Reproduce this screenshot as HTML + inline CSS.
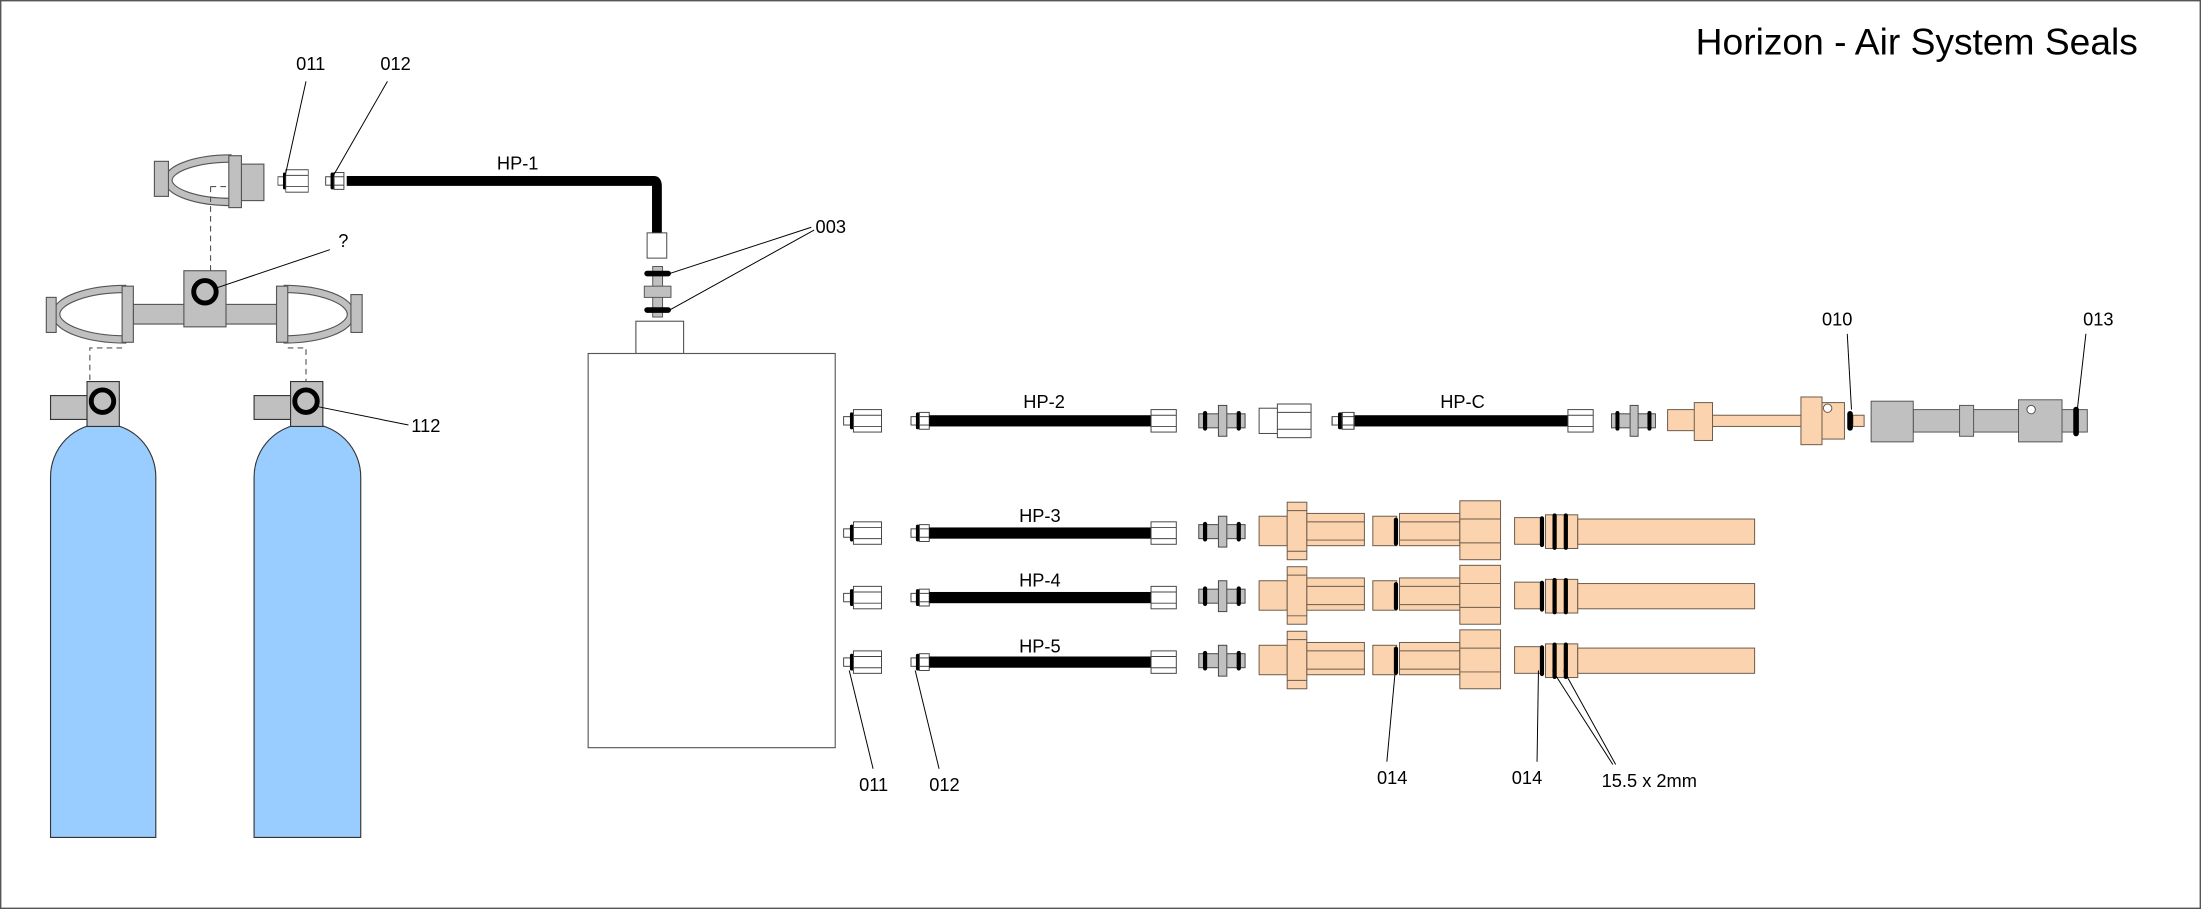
<!DOCTYPE html>
<html><head><meta charset="utf-8"><style>
html,body{margin:0;padding:0;background:#fff;}
svg{display:block;}
text{font-family:"Liberation Sans",sans-serif;fill:#000;}
</style></head><body>
<svg width="2201" height="909" viewBox="0 0 1568 648" preserveAspectRatio="none" xmlns="http://www.w3.org/2000/svg">
<defs>
  <g id="fit011" stroke="#444" stroke-width="0.7">
    <rect x="0" y="-3" width="5" height="6" fill="#fff"/>
    <rect x="4.5" y="-6" width="2.5" height="12" rx="1.2" fill="#000" stroke="none"/>
    <rect x="7" y="-8" width="20" height="16" fill="#fff"/>
    <line x1="7" y1="-4" x2="27" y2="-4"/><line x1="7" y1="4" x2="27" y2="4"/>
  </g>
  <g id="fit012" stroke="#444" stroke-width="0.7">
    <rect x="0" y="-3" width="4" height="6" fill="#fff"/>
    <rect x="3.5" y="-6" width="2.5" height="12" rx="1.2" fill="#000" stroke="none"/>
    <rect x="6" y="-6" width="7" height="12" fill="#fff"/>
    <line x1="6" y1="-3" x2="13" y2="-3"/><line x1="6" y1="3" x2="13" y2="3"/>
  </g>
  <g id="endnut" stroke="#444" stroke-width="0.7">
    <rect x="0" y="-8" width="18" height="16" fill="#fff"/>
    <line x1="0" y1="-4" x2="18" y2="-4"/><line x1="0" y1="4" x2="18" y2="4"/>
  </g>
  <g id="bulk" stroke="#444" stroke-width="0.7">
    <rect x="0" y="-5" width="33" height="10" fill="#c0c0c0"/>
    <rect x="14" y="-11" width="6" height="22" fill="#c0c0c0"/>
    <rect x="3" y="-7" width="3" height="14" rx="1.5" fill="#000" stroke="none"/>
    <rect x="27" y="-7" width="3" height="14" rx="1.5" fill="#000" stroke="none"/>
  </g>
  <g id="peachA" stroke="#6b5a4a" stroke-width="0.7" fill="#fbd3ae">
    <rect x="0" y="-11" width="20" height="21"/>
    <rect x="20" y="-21" width="14" height="41"/>
    <line x1="20" y1="-15" x2="34" y2="-15"/><line x1="20" y1="14" x2="34" y2="14"/>
    <rect x="34" y="-13" width="41" height="23"/>
    <line x1="34" y1="-7" x2="75" y2="-7"/><line x1="34" y1="6" x2="75" y2="6"/>
  </g>
  <g id="peachB" stroke="#6b5a4a" stroke-width="0.7" fill="#fbd3ae">
    <rect x="0" y="-11" width="17" height="21"/>
    <rect x="15" y="-10" width="3" height="20" rx="1.5" fill="#000" stroke="none"/>
    <rect x="19" y="-13" width="43" height="23"/>
    <line x1="19" y1="-7" x2="62" y2="-7"/><line x1="19" y1="6" x2="62" y2="6"/>
    <rect x="62" y="-22" width="29" height="42"/>
    <line x1="62" y1="-9" x2="91" y2="-9"/><line x1="62" y1="8" x2="91" y2="8"/>
  </g>
  <g id="peachC" stroke="#6b5a4a" stroke-width="0.7" fill="#fbd3ae">
    <rect x="0" y="-10" width="20" height="19"/>
    <rect x="22" y="-12" width="23" height="24"/>
    <rect x="45" y="-9" width="126" height="18"/>
    <rect x="18" y="-11" width="3" height="22" rx="1.5" fill="#000" stroke="none"/>
    <rect x="27" y="-13" width="3" height="26" rx="1.5" fill="#000" stroke="none"/>
    <rect x="35" y="-13" width="3" height="26" rx="1.5" fill="#000" stroke="none"/>
  </g>
</defs>

<rect x="0.5" y="0.5" width="1567" height="647" fill="#fff" stroke="#555" stroke-width="1"/>
<text x="1208" y="39" font-size="26.5">Horizon - Air System Seals</text>

<!-- top yoke -->
<g stroke="#555" stroke-width="0.8">
  <path d="M165 113 A45 15.5 0 0 0 165 144" fill="none" stroke="#555" stroke-width="6"/>
  <path d="M165 113 A45 15.5 0 0 0 165 144" fill="none" stroke="#c0c0c0" stroke-width="4.4"/>
  <rect x="110" y="115" width="10" height="25" fill="#c0c0c0"/>
  <rect x="172" y="117" width="16" height="26" fill="#c0c0c0"/>
  <rect x="163" y="111" width="9" height="37" fill="#c0c0c0"/>
  <path d="M150 133 H163 M150 133 V193" fill="none" stroke-dasharray="4 3"/>
</g>
<use href="#fit011" transform="translate(198,129) scale(0.8,1)"/>
<use href="#fit012" transform="translate(232,129)"/>
<path d="M247 129 H466 Q468 129 468 133 V167" fill="none" stroke="#000" stroke-width="7"/>
<rect x="461" y="166" width="14" height="18" fill="#fff" stroke="#444" stroke-width="0.7"/>
<text x="354" y="121" font-size="13">HP-1</text>
<text x="211" y="50" font-size="13">011</text>
<text x="271" y="50" font-size="13">012</text>
<line x1="218" y1="58" x2="203" y2="126" stroke="#000" stroke-width="0.7"/>
<line x1="276" y1="58" x2="237" y2="126" stroke="#000" stroke-width="0.7"/>

<!-- 003 fitting -->
<g stroke="#555" stroke-width="0.7">
  <rect x="465" y="190" width="7" height="36" fill="#c0c0c0"/>
  <rect x="459" y="204" width="19" height="8" fill="#c0c0c0"/>
  <rect x="459" y="193" width="19" height="4" rx="2" fill="#000" stroke="none"/>
  <rect x="459" y="219" width="19" height="4" rx="2" fill="#000" stroke="none"/>
</g>
<text x="581" y="166" font-size="13">003</text>
<line x1="578" y1="162" x2="477" y2="195" stroke="#000" stroke-width="0.7"/>
<line x1="580" y1="164" x2="477" y2="221" stroke="#000" stroke-width="0.7"/>

<!-- compressor box -->
<rect x="453" y="229" width="34" height="23" fill="#fff" stroke="#555" stroke-width="0.8"/>
<rect x="419" y="252" width="176" height="281" fill="#fff" stroke="#555" stroke-width="0.8"/>

<!-- manifold -->
<g stroke="#555" stroke-width="0.8">
  <path d="M90 206 A50 18 0 0 0 90 242" fill="none" stroke="#555" stroke-width="6"/>
  <path d="M90 206 A50 18 0 0 0 90 242" fill="none" stroke="#c0c0c0" stroke-width="4.4"/>
  <path d="M202 206 A48 18 0 0 1 202 242" fill="none" stroke="#555" stroke-width="6"/>
  <path d="M202 206 A48 18 0 0 1 202 242" fill="none" stroke="#c0c0c0" stroke-width="4.4"/>
  <rect x="33" y="212" width="7" height="25" fill="#c0c0c0"/>
  <rect x="250" y="210" width="8" height="27" fill="#c0c0c0"/>
  <rect x="95" y="217" width="103" height="14" fill="#c0c0c0"/>
  <rect x="87" y="204" width="8" height="40" fill="#c0c0c0"/>
  <rect x="197" y="204" width="8" height="40" fill="#c0c0c0"/>
  <rect x="131" y="193" width="30" height="40" fill="#c0c0c0"/>
  <circle cx="146" cy="208" r="8" fill="none" stroke="#000" stroke-width="3.5"/>
  <path d="M87 248 H64 V272 M205 248 H218 V272" fill="none" stroke-dasharray="4 3"/>
</g>
<text x="241" y="176" font-size="13">?</text>
<line x1="155" y1="205" x2="235" y2="178" stroke="#000" stroke-width="0.7"/>

<!-- cylinders -->
<g stroke="#333" stroke-width="0.8">
  <path d="M36 340 A37.5 38 0 0 1 111 340 V597 H36 Z" fill="#99ccff"/>
  <rect x="36" y="282" width="26" height="17" fill="#c0c0c0"/>
  <rect x="62" y="272" width="23" height="32" fill="#c0c0c0"/>
  <circle cx="73" cy="286" r="8" fill="none" stroke="#000" stroke-width="3.5"/>
</g>
<g stroke="#333" stroke-width="0.8">
  <path d="M181 340 A38 38 0 0 1 257 340 V597 H181 Z" fill="#99ccff"/>
  <rect x="181" y="282" width="26" height="17" fill="#c0c0c0"/>
  <rect x="207" y="272" width="23" height="32" fill="#c0c0c0"/>
  <circle cx="218" cy="286" r="8" fill="none" stroke="#000" stroke-width="3.5"/>
</g>
<text x="293" y="308" font-size="13">112</text>
<line x1="227" y1="290" x2="291" y2="303" stroke="#000" stroke-width="0.7"/>

<!-- row 1 (HP-2 / HP-C) -->
<use href="#fit011" transform="translate(601,300)"/>
<use href="#fit012" transform="translate(649,300)"/>
<rect x="662" y="296" width="158" height="8" fill="#000"/>
<use href="#endnut" transform="translate(820,300)"/>
<use href="#bulk" transform="translate(854,300)"/>
<text x="729" y="291" font-size="13">HP-2</text>
<g stroke="#444" stroke-width="0.7" fill="#fff">
  <rect x="897" y="291" width="14" height="18"/>
  <rect x="910" y="288" width="24" height="24"/>
  <line x1="910" y1="294" x2="934" y2="294"/><line x1="910" y1="306" x2="934" y2="306"/>
</g>
<use href="#fit012" transform="translate(949,300) scale(1.2,1)"/>
<rect x="965" y="296" width="152" height="8" fill="#000"/>
<use href="#endnut" transform="translate(1117,300)"/>
<use href="#bulk" transform="translate(1148,300) scale(0.95,1)"/>
<text x="1026" y="291" font-size="13">HP-C</text>
<g stroke="#6b5a4a" stroke-width="0.7" fill="#fbd3ae">
  <rect x="1188" y="292" width="20" height="15"/>
  <rect x="1320" y="296" width="8" height="8"/>
  <rect x="1220" y="296" width="64" height="8"/>
  <rect x="1207" y="287" width="13" height="27"/>
  <rect x="1283" y="283" width="15" height="34"/>
  <rect x="1298" y="287" width="16" height="26"/>
  <circle cx="1302" cy="291" r="3" fill="#fff"/>
  <rect x="1316" y="293" width="4" height="14" rx="2" fill="#000" stroke="none"/>
</g>
<g stroke="#555" stroke-width="0.7" fill="#c0c0c0">
  <rect x="1363" y="292" width="124" height="16"/>
  <rect x="1333" y="286" width="30" height="29"/>
  <rect x="1396" y="289" width="10" height="22"/>
  <rect x="1438" y="285" width="31" height="30"/>
  <circle cx="1447" cy="292" r="3" fill="#fff"/>
  <rect x="1477" y="290" width="4" height="21" rx="2" fill="#000" stroke="none"/>
</g>
<text x="1298" y="232" font-size="13">010</text>
<line x1="1316" y1="238" x2="1319" y2="292" stroke="#000" stroke-width="0.7"/>
<text x="1484" y="232" font-size="13">013</text>
<line x1="1486" y1="238" x2="1480" y2="291" stroke="#000" stroke-width="0.7"/>

<!-- rows 3-5 -->
<g>
  <use href="#fit011" transform="translate(601,380)"/>
  <use href="#fit012" transform="translate(649,380)"/>
  <rect x="662" y="376" width="158" height="8" fill="#000"/>
  <use href="#endnut" transform="translate(820,380)"/>
  <use href="#bulk" transform="translate(854,379)"/>
  <use href="#peachA" transform="translate(897,379)"/>
  <use href="#peachB" transform="translate(978,379)"/>
  <use href="#peachC" transform="translate(1079,379)"/>
  <text x="726" y="372" font-size="13">HP-3</text>
</g>
<g>
  <use href="#fit011" transform="translate(601,426)"/>
  <use href="#fit012" transform="translate(649,426)"/>
  <rect x="662" y="422" width="158" height="8" fill="#000"/>
  <use href="#endnut" transform="translate(820,426)"/>
  <use href="#bulk" transform="translate(854,425)"/>
  <use href="#peachA" transform="translate(897,425)"/>
  <use href="#peachB" transform="translate(978,425)"/>
  <use href="#peachC" transform="translate(1079,425)"/>
  <text x="726" y="418" font-size="13">HP-4</text>
</g>
<g>
  <use href="#fit011" transform="translate(601,472)"/>
  <use href="#fit012" transform="translate(649,472)"/>
  <rect x="662" y="468" width="158" height="8" fill="#000"/>
  <use href="#endnut" transform="translate(820,472)"/>
  <use href="#bulk" transform="translate(854,471)"/>
  <use href="#peachA" transform="translate(897,471)"/>
  <use href="#peachB" transform="translate(978,471)"/>
  <use href="#peachC" transform="translate(1079,471)"/>
  <text x="726" y="465" font-size="13">HP-5</text>
</g>

<!-- bottom labels -->
<g stroke="#000" stroke-width="0.7">
  <line x1="605" y1="478" x2="622" y2="548"/>
  <line x1="652" y1="478" x2="669" y2="548"/>
  <line x1="994" y1="478" x2="988" y2="543"/>
  <line x1="1096" y1="478" x2="1095" y2="543"/>
  <line x1="1106" y1="478" x2="1149" y2="545"/>
  <line x1="1114" y1="478" x2="1151" y2="545"/>
</g>
<text x="612" y="564" font-size="13">011</text>
<text x="662" y="564" font-size="13">012</text>
<text x="981" y="559" font-size="13">014</text>
<text x="1077" y="559" font-size="13">014</text>
<text x="1141" y="561" font-size="13">15.5 x 2mm</text>
</svg>
</body></html>
